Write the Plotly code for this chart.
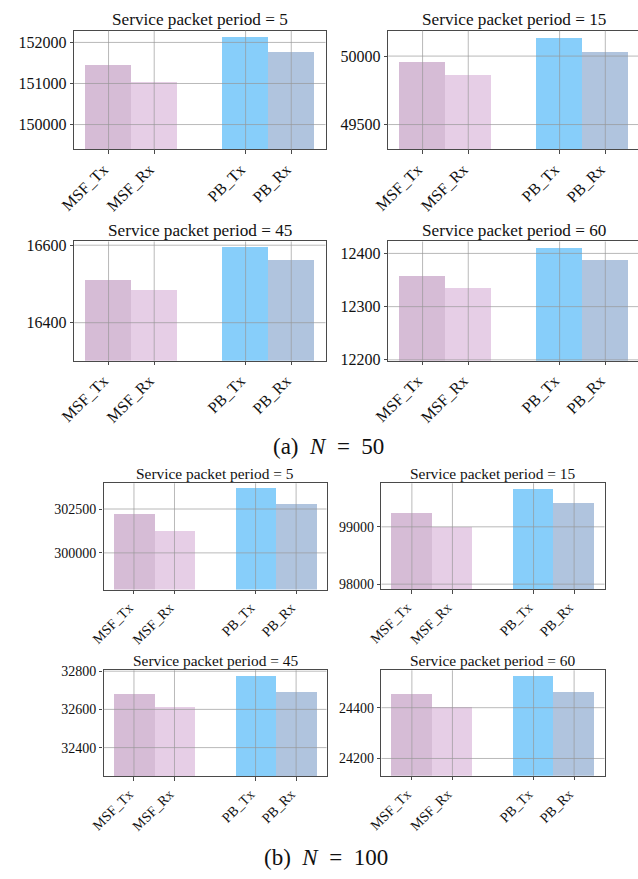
import plotly.graph_objects as go

# Service packet periods shown in each panel
periods = [5, 15, 45, 60]
bar_labels = ["MSF_Tx", "MSF_Rx", "PB_Tx", "PB_Rx"]

# N = 50
n50_msf_tx = [151462, 49962, 16510, 12356]
n50_msf_rx = [151057, 49867, 16483, 12334]
n50_pb_tx = [152136, 50136, 16593, 12410]
n50_pb_rx = [151786, 50034, 16561, 12386]

# N = 100
n100_msf_tx = [302178, 99229, 32680, 24452]
n100_msf_rx = [301224, 99000, 32610, 24400]
n100_pb_tx = [303663, 99660, 32772, 24523]
n100_pb_rx = [302743, 99414, 32688, 24460]

# y tick values per panel
n50_yticks = [[150000, 151000, 152000], [49500, 50000], [16400, 16600], [12200, 12300, 12400]]
n100_yticks = [[300000, 302500], [98000, 99000], [32400, 32600, 32800], [24200, 24400]]

bar_colors = ["#D6BCD6", "#E6CEE6", "#87CEFA", "#B0C4DE"]

W, H = 638, 879
SPINE = "#4a4a4a"
GRID = "rgba(150,150,150,0.75)"
FONT = "Liberation Serif"

# two groups of two bars, one empty slot between groups
xpos = [0, 1, 3, 4]

# panel geometry in pixels: (left, right, top, bottom, visible_right)
panels = [
    (60.7, 318.0, 25.0, 145.7, 318.0),
    (382.3, 639.6, 25.0, 145.7, 638.0),
    (60.7, 318.0, 239.3, 360.5, 318.0),
    (382.3, 639.6, 239.3, 360.5, 638.0),
    (90.7, 319.0, 485.0, 593.0, 319.0),
    (375.3, 603.7, 485.0, 592.7, 603.7),
    (90.7, 319.0, 675.0, 782.5, 319.0),
    (375.3, 603.7, 675.0, 782.3, 603.7),
]
title_centers_y = [14, 14, 228, 228, 475.5, 475.5, 665.5, 665.5]

# (values, y ticks, title size, tick size)
series = []
for i in range(4):
    series.append(([n50_msf_tx[i], n50_msf_rx[i], n50_pb_tx[i], n50_pb_rx[i]], n50_yticks[i], 17.2, 16))
for i in range(4):
    series.append(([n100_msf_tx[i], n100_msf_rx[i], n100_pb_tx[i], n100_pb_rx[i]], n100_yticks[i], 15.4, 14))

fig = go.Figure()
shapes = []
annotations = []
layout = {}

for k, ((vals, yt, tsize, ksize), (l, r, t, b, vr)) in enumerate(zip(series, panels)):
    n = k + 1
    sx = "" if n == 1 else str(n)
    period = periods[k % 4]
    fig.add_trace(go.Bar(
        x=xpos, y=vals, width=1.0,
        marker=dict(color=bar_colors, line=dict(width=0)),
        xaxis="x" + sx, yaxis="y" + sx, showlegend=False,
    ))
    full_span = 5.5
    xr_right = -0.75 + (vr - l) / (r - l) * full_span
    cut = vr < r
    ymin = min(vals) * 0.989
    ymax = max(vals) * 1.001
    layout["xaxis" + sx] = dict(
        domain=[l / W, vr / W], anchor="y" + sx,
        range=[-0.75, xr_right], tickmode="array", tickvals=xpos, ticktext=bar_labels,
        tickangle=-45, ticklabelshift=-5, showgrid=False, zeroline=False,
        showline=True, linecolor=SPINE, linewidth=1.2, mirror=True,
        ticks="outside", ticklen=3.5, tickcolor=SPINE,
        tickfont=dict(family=FONT, size=ksize, color="#111"),
    )
    layout["yaxis" + sx] = dict(
        domain=[1 - b / H, 1 - t / H], anchor="x" + sx,
        range=[ymin, ymax], tickmode="array", tickvals=yt,
        ticktext=[str(v) for v in yt],
        showgrid=False, zeroline=False,
        showline=True, linecolor=SPINE, linewidth=1.2, mirror=not cut,
        ticks="outside", ticklen=3.5, tickcolor=SPINE,
        tickfont=dict(family=FONT, size=ksize, color="#111"),
    )
    # grid lines drawn over the bars
    for v in yt:
        shapes.append(dict(type="line", xref="x" + sx + " domain", yref="y" + sx,
                           x0=0, x1=1, y0=v, y1=v, layer="above",
                           line=dict(color=GRID, width=0.9)))
    for xp in xpos:
        shapes.append(dict(type="line", xref="x" + sx, yref="y" + sx + " domain",
                           x0=xp, x1=xp, y0=0, y1=1, layer="above",
                           line=dict(color=GRID, width=0.9)))
    annotations.append(dict(
        text=f"Service packet period = {period}",
        xref="paper", yref="paper", x=(l + r) / 2 / W, y=1 - title_centers_y[k] / H,
        xanchor="center", yanchor="middle", showarrow=False,
        font=dict(family=FONT, size=tsize, color="#111"),
    ))

annotations.append(dict(
    text="(a)&nbsp;&nbsp;<i>N</i>&nbsp;&nbsp;=&nbsp;&nbsp;50",
    xref="paper", yref="paper", x=321 / W, y=1 - 448 / H,
    xanchor="center", yanchor="middle", showarrow=False,
    font=dict(family=FONT, size=23, color="#111"),
))
annotations.append(dict(
    text="(b)&nbsp;&nbsp;<i>N</i>&nbsp;&nbsp;=&nbsp;&nbsp;100",
    xref="paper", yref="paper", x=318 / W, y=1 - 865 / H,
    xanchor="center", yanchor="middle", showarrow=False,
    font=dict(family=FONT, size=23, color="#111"),
))

fig.update_layout(
    width=W, height=H, margin=dict(l=0, r=0, t=0, b=0),
    paper_bgcolor="white", plot_bgcolor="white",
    shapes=shapes, annotations=annotations, bargap=0,
    **layout,
)

fig.write_html("out.html")
